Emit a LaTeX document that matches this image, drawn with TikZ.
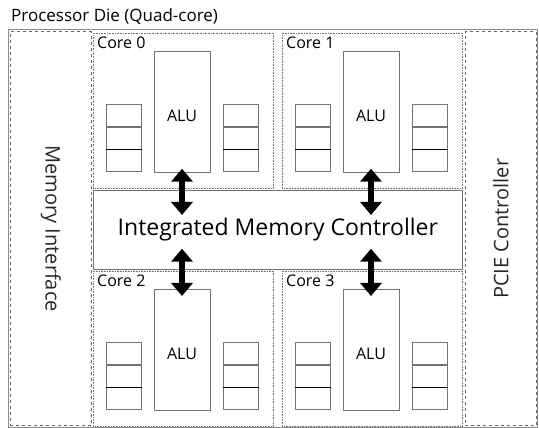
\documentclass[tikz,border=0pt]{standalone}
\usepackage{fontspec}
\setmainfont{Open Sans}
\usetikzlibrary{arrows.meta,calc}

\begin{document}
\begin{tikzpicture}[x=1pt, y=1pt,
    diebox/.style={draw=black!45, line width=0.8pt},
    sidebox/.style={draw=black!60, dashed, line width=0.6pt, inner sep=0pt},
    corebox/.style={draw=black!55, densely dotted, line width=0.6pt, inner sep=0pt},
    block/.style={draw=black!55, line width=0.7pt, inner sep=0pt},
    alubox/.style={block, minimum width=56pt, minimum height=121pt},
    regcell/.style={block, minimum width=35pt, minimum height=22pt},
    dblarr/.style={{Triangle[width=21pt,length=13pt]}-{Triangle[width=21pt,length=13pt]}, line width=6.5pt},
    lbl/.style={font=\fontsize{16}{19}\selectfont, inner sep=0pt},
    sidelbl/.style={font=\fontsize{20}{24}\selectfont, text=black!85}
  ]
    \useasboundingbox (0,0) rectangle (539,428);

    % die outline and title
    \draw[diebox] (8,1) rectangle (537,399);
    \node[lbl, font=\fontsize{17}{20}\selectfont, anchor=base west] (title) at (11,406.5) {Processor Die (Quad-core)};

    % side blocks
    \node[sidebox, minimum width=81pt, minimum height=394pt, anchor=south west] (mem) at (10,2) {};
    \node[sidelbl, rotate=-90] at (mem.center) {Memory Interface};
    \node[sidebox, minimum width=71pt, minimum height=394pt, anchor=south west] (pcie) at (465,2) {};
    \node[sidelbl, rotate=90] at (pcie.center) {PCIE Controller};

    % memory controller
    \node[block, minimum width=369pt, minimum height=79pt, anchor=north west,
      font=\fontsize{23}{27}\selectfont] (imc) at (93,238) {Integrated Memory Controller};

    % cores
    \foreach \n/\x/\y in {0/93/395, 1/282/395, 2/93/157, 3/282/157}{
      \node[corebox, minimum width=180pt, minimum height=155pt, anchor=north west] (core\n) at (\x,\y) {};
      \node[lbl, anchor=base west] at ($(core\n.north west)+(4,-16)$) {Core \n};
      \node[alubox, anchor=north] (alu\n) at ($(core\n.north west)+(89,-18)$) {};
      \node[lbl] at ($(alu\n.center)+(0,-4)$) {ALU};
      \foreach \s/\dx in {L/31, R/148}{
        \node[regcell, anchor=south] (reg\n\s-3) at ($(core\n.north west)+(\dx,-139)$) {};
        \node[regcell, anchor=south] (reg\n\s-2) at (reg\n\s-3.north) {};
        \node[regcell, anchor=south] (reg\n\s-1) at (reg\n\s-2.north) {};
        \draw[black, line width=0.7pt] (reg\n\s-3.north west) -- (reg\n\s-3.north east);
      }
    }

    % links to the memory controller
    \foreach \n in {0,1}
      \draw[dblarr] ($(alu\n.south)+(0,4)$) -- ($(alu\n.south |- imc.north)+(0,-25)$);
    \foreach \n in {2,3}
      \draw[dblarr] ($(alu\n.north |- imc.south)+(0,21)$) -- ($(alu\n.north)+(0,-7)$);
  \end{tikzpicture}
\end{document}
